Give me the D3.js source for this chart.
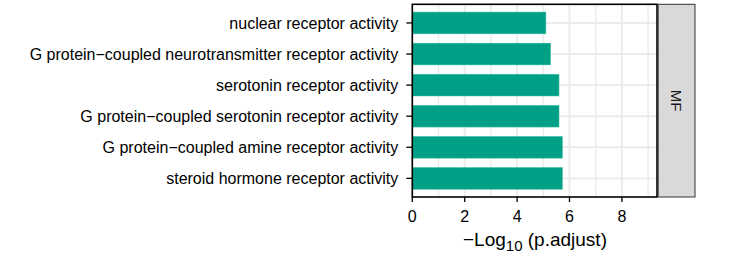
<!DOCTYPE html>
<html><head><meta charset="utf-8">
<script src="https://cdn.jsdelivr.net/npm/d3@7"></script>
<style>body{margin:0;background:#fff}svg{display:block}text{font-family:"Liberation Sans",Arial,sans-serif}</style>
</head><body><svg id="c" width="748" height="253"></svg>
<script>
const categories = ["nuclear receptor activity","G protein\u2212coupled neurotransmitter receptor activity","serotonin receptor activity","G protein\u2212coupled serotonin receptor activity","G protein\u2212coupled amine receptor activity","steroid hormone receptor activity"];
const values = [5.10, 5.28, 5.60, 5.60, 5.73, 5.73];
const xTicks = [0,2,4,6,8];
const minorTicks = [1,3,5,7,9];
const facetLabel = "MF";

const svg = d3.select("#c");
const L = 412.3, R = 657, T = 4.3, B = 197;
const x = d3.scaleLinear().domain([0, 9.34]).range([L, R]);
// discrete scale with 0.6 additive expansion on each side
const y = d3.scaleLinear().domain([0.4, categories.length + 0.6]).range([T, B]);
const yc = c => y(categories.indexOf(c) + 1);
const bw = (y(1) - y(0)) * 0.7;

svg.append("rect").attr("x", L).attr("y", T).attr("width", R - L).attr("height", B - T).attr("fill", "#fff");
const g = svg.append("g");
g.selectAll(".mn").data(minorTicks).join("line").attr("x1", d => x(d)).attr("x2", d => x(d)).attr("y1", T).attr("y2", B).attr("stroke", "#ebebeb").attr("stroke-width", 1.4);
g.selectAll(".mj").data(xTicks).join("line").attr("x1", d => x(d)).attr("x2", d => x(d)).attr("y1", T).attr("y2", B).attr("stroke", "#ebebeb").attr("stroke-width", 1.9);
g.selectAll(".hy").data(categories).join("line").attr("x1", L).attr("x2", R).attr("y1", d => yc(d)).attr("y2", d => yc(d)).attr("stroke", "#ebebeb").attr("stroke-width", 1.9);

g.selectAll(".bar").data(categories).join("rect")
  .attr("x", x(0)).attr("y", d => yc(d) - bw / 2)
  .attr("width", (d, i) => x(values[i]) - x(0)).attr("height", bw)
  .attr("fill", "#00A087").attr("stroke", "#3fbfa6").attr("stroke-width", 0.5);

svg.append("rect").attr("x", L).attr("y", T).attr("width", R - L).attr("height", B - T).attr("fill", "none").attr("stroke", "#000").attr("stroke-width", 1.6);

// strip
svg.append("rect").attr("x", R + 1.2).attr("y", T).attr("width", 36.8).attr("height", B - T).attr("fill", "#d9d9d9").attr("stroke", "#333").attr("stroke-width", 1);
svg.append("text").attr("transform", `translate(${R + 1.2 + 18.4},${(T + B) / 2}) rotate(90)`).attr("text-anchor", "middle").attr("dy", "0.35em").attr("font-size", 15).attr("fill", "#1a1a1a").text(facetLabel);

// y axis
const ya = svg.append("g");
categories.forEach(c => {
  ya.append("line").attr("x1", L - 6).attr("x2", L).attr("y1", yc(c)).attr("y2", yc(c)).attr("stroke", "#000").attr("stroke-width", 1.3);
  ya.append("text").attr("x", L - 14).attr("y", yc(c)).attr("dy", "0.36em").attr("text-anchor", "end").attr("font-size", 16).attr("fill", "#000").text(c);
});
// x axis
const xa = svg.append("g");
xTicks.forEach(t => {
  xa.append("line").attr("x1", x(t)).attr("x2", x(t)).attr("y1", B).attr("y2", B + 5).attr("stroke", "#000").attr("stroke-width", 1.3);
  xa.append("text").attr("x", x(t)).attr("y", B + 25).attr("text-anchor", "middle").attr("font-size", 16).attr("fill", "#000").text(t);
});
const title = svg.append("text").attr("x", 535).attr("y", 246).attr("text-anchor", "middle").attr("font-size", 19).attr("fill", "#000");
title.append("tspan").text("\u2212Log");
title.append("tspan").attr("font-size", 15).attr("dy", 5).text("10");
title.append("tspan").attr("dy", -5).text(" (p.adjust)");
</script></body></html>
